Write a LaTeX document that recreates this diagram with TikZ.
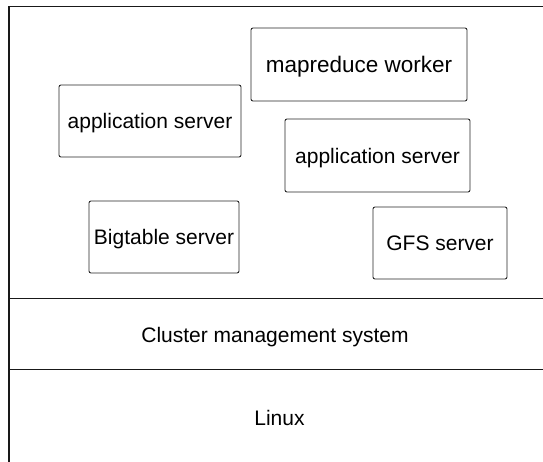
\documentclass[tikz,border=0pt]{standalone}
\usepackage{fontspec}
\setmainfont{Liberation Sans}
\tikzset{
  server/.style={draw=black!85, line width=0.9pt, rounded corners=2pt, inner sep=0pt,
    font=\fontsize{21}{25}\selectfont, text height=15.2pt, text depth=0pt, anchor=center},
  layertext/.style={inner sep=0pt, font=\fontsize{21}{25}\selectfont, text height=15.2pt, text depth=0pt},
  frame/.style={draw=black!90, line width=1.1pt}
}
\begin{document}
\begin{tikzpicture}[x=1pt,y=-1pt]
\useasboundingbox (0,0) rectangle (543,462);
\clip (0,0) rectangle (543,462);
% frame
\coordinate (tl) at (9,6.5);
\coordinate (tr) at (550,6.5);
\coordinate (bl) at (9,470);
\coordinate (l1) at (9,298.3);
\coordinate (r1) at (550,298.3);
\coordinate (l2) at (9,369.5);
\coordinate (r2) at (550,369.5);
\draw[frame] (bl) -- (tl) -- (tr);
\draw[frame] (l1) -- (r1);
\draw[frame] (l2) -- (r2);
% servers
\node[server, minimum width=216pt, minimum height=73pt, font=\fontsize{22.5}{27}\selectfont, text height=16.3pt] (mr) at (359,64.5) {mapreduce worker};
\node[server, minimum width=182pt, minimum height=72pt] (app1) at (150,121) {application server};
\node[server, minimum width=185pt, minimum height=73pt] (app2) at (377.5,155.5) {application server};
\node[server, minimum width=150pt, minimum height=72pt] (bt) at (164,237) {Bigtable server};
\node[server, minimum width=134pt, minimum height=72pt] (gfs) at (440,243) {GFS server};
% layers
\node[layertext] (cms) at (275,335) {Cluster management system};
\node[layertext] (linux) at (279.5,418) {Linux};
\end{tikzpicture}
\end{document}
